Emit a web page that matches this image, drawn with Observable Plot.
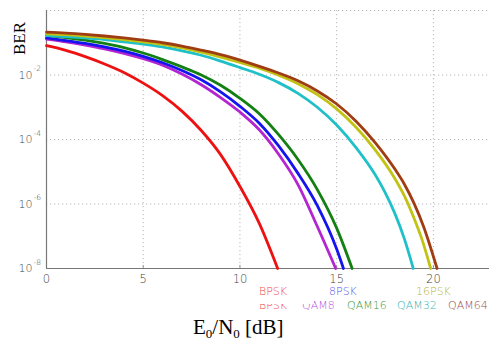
<!DOCTYPE html>
<html>
<head>
<meta charset="utf-8">
<script src="https://cdn.jsdelivr.net/npm/d3@7"></script>
<script src="https://cdn.jsdelivr.net/npm/@observablehq/plot@0.6"></script>
<style>
  html, body { margin: 0; padding: 0; background: #fff; }
  #wrap { position: relative; width: 489px; height: 345px; overflow: hidden; }
  #wrap svg { position: absolute; left: 0; top: 0; }
  .lab { position: absolute; white-space: nowrap; }
  .leg { position: absolute; font-family: "DejaVu Sans", sans-serif; font-size: 11px; font-weight: 300; line-height: 11px; white-space: nowrap; }
</style>
</head>
<body>
<div id="wrap"></div>
<script>
// ---- data ----
const xBPSK   = [0,1,2,3,4,5,6,7,8,9,10,11,11.95];
const berBPSK = [8.1e-2,5.8e-2,3.7e-2,2.2e-2,1.2e-2,5.6e-3,2.3e-3,7.6e-4,1.9e-4,3.4e-5,3.5e-6,2.5e-7,1e-8];

const xQAM8   = [0,1,2,3,4,5,6,7,8,9,10,11,12,13,14,14.95];
const berQAM8 = [1.3e-1,1.07e-1,8.5e-2,6.5e-2,4.7e-2,3.2e-2,2.0e-2,1.07e-2,5.0e-3,2.0e-3,7.1e-4,2.0e-4,3.5e-5,4.0e-6,2.0e-7,1e-8];

const x8PSK   = [0,1,2,3,4,5,6,7,8,9,10,11,12,13,14,15,15.35];
const ber8PSK = [1.41e-1,1.17e-1,9.5e-2,7.4e-2,5.5e-2,3.8e-2,2.4e-2,1.38e-2,7.1e-3,3.0e-3,1.07e-3,3.2e-4,6.3e-5,8.9e-6,8.9e-7,4.0e-8,1e-8];

const xQAM16   = [0,1,2,3,4,5,6,7,8,9,10,11,12,13,14,15,15.8];
const berQAM16 = [1.7e-1,1.45e-1,1.2e-1,9.5e-2,7.1e-2,4.8e-2,3.0e-2,1.78e-2,1.0e-2,4.8e-3,1.9e-3,6.3e-4,1.41e-4,2.4e-5,2.8e-6,1.78e-7,1e-8];

const xQAM32   = [0,1,2,3,4,5,6,7,8,9,10,11,12,13,14,15,16,17,17.5,18,18.5,18.96];
const berQAM32 = [1.66e-1,1.55e-1,1.41e-1,1.26e-1,1.07e-1,9.1e-2,7.4e-2,5.6e-2,4.1e-2,2.7e-2,1.7e-2,1.05e-2,5.8e-3,2.7e-3,1.0e-3,2.8e-4,5.6e-5,7.9e-6,2.3e-6,5.2e-7,8.3e-8,1e-8];

const x16PSK   = [0,1,2,3,4,5,6,7,8,9,10,11,12,13,14,15,16,17,18,18.5,19,19.4,19.86];
const ber16PSK = [1.9e-1,1.78e-1,1.62e-1,1.45e-1,1.26e-1,1.07e-1,8.9e-2,6.9e-2,5.1e-2,3.6e-2,2.45e-2,1.62e-2,9.8e-3,5.4e-3,2.45e-3,8.9e-4,2.4e-4,4.7e-5,6.3e-6,1.78e-6,3.6e-7,8.3e-8,1e-8];

const xQAM64   = [0,1,2,3,4,5,6,7,8,9,10,11,12,13,14,15,16,17,18,18.5,19,19.5,20.19];
const berQAM64 = [2.14e-1,2.0e-1,1.82e-1,1.62e-1,1.41e-1,1.2e-1,1.0e-1,7.9e-2,5.9e-2,4.3e-2,2.9e-2,1.86e-2,1.15e-2,6.6e-3,3.2e-3,1.26e-3,3.7e-4,7.9e-5,1.23e-5,4.1e-6,1.05e-6,1.95e-7,1e-8];

const seriesNames  = ["BPSK","QAM8","8PSK","QAM16","QAM32","16PSK","QAM64"];
const seriesColors = ["#ee1111","#b424d0","#1414ee","#128012","#20c0c8","#c2c214","#a03c12"];
const seriesX = [xBPSK,xQAM8,x8PSK,xQAM16,xQAM32,x16PSK,xQAM64];
const seriesY = [berBPSK,berQAM8,ber8PSK,berQAM16,berQAM32,ber16PSK,berQAM64];

const xTicks = [0,5,10,15,20];
const xGrid = [5,10,15,20];
const yTicks = [1e-2,1e-4,1e-6,1e-8];
const yExp = ["-2","-4","-6","-8"];
const yGrid = [1,1e-2,1e-4,1e-6];

// legend rows as in the reference
const legendRow1 = [["BPSK","#f04848",259],["8PSK","#5656f0",329],["16PSK","#b4b43c",416]];
const legendRow2 = [["BPSK","#f04848",259],["QAM8","#c050e0",302],["QAM16","#3a9a3a",347],["QAM32","#3cb4b4",397],["QAM64","#a05050",448]];

const rows = [];
seriesNames.forEach((n, i) => {
  seriesX[i].forEach((x, j) => rows.push({series: n, x, ber: seriesY[i][j]}));
});

const tickFont = "DejaVu Sans, sans-serif";

const chart = Plot.plot({
  width: 489,
  height: 285,
  marginLeft: 46,
  marginRight: 0,
  marginTop: 10,
  marginBottom: 17,
  x: {domain: [0, 22.9], axis: null},
  y: {type: "log", domain: [1e-8, 1], axis: null},
  color: {domain: seriesNames, range: seriesColors},
  style: {background: "#fff", overflow: "visible"},
  marks: [
    Plot.ruleX(xGrid, {stroke: "#b8b8b8", strokeDasharray: "1.2,2.8", strokeWidth: 1}),
    Plot.ruleY(yGrid, {stroke: "#b8b8b8", strokeDasharray: "1.2,2.8", strokeWidth: 1}),
    Plot.ruleX(xGrid, {x: d => d, y1: 1e-8, y2: 1.25e-8, stroke: "#999"}),
    Plot.ruleX([0], {stroke: "#777", strokeWidth: 1.2}),
    Plot.ruleY([1e-8], {stroke: "#777", strokeWidth: 1.2}),
    Plot.line(rows, {x: "x", y: "ber", z: "series", stroke: "series", strokeWidth: 2.8, curve: "monotone-x"}),
    Plot.text(xTicks, {x: d => d, frameAnchor: "bottom", dy: 11, lineAnchor: "middle", text: d => String(d),
      fontFamily: tickFont, fontSize: 11.5, fontWeight: 300, fill: "#444"}),
    Plot.text(yTicks, {y: d => d, frameAnchor: "left", dx: -14, textAnchor: "end", lineAnchor: "middle", text: () => "10",
      fontFamily: tickFont, fontSize: 11, fontWeight: 300, fill: "#444"}),
    Plot.text(yTicks, {y: d => d, frameAnchor: "left", dx: -13, dy: -6, textAnchor: "start", lineAnchor: "middle", text: (d, i) => yExp[i],
      fontFamily: tickFont, fontSize: 7.5, fontWeight: 300, fill: "#444"})
  ]
});

const wrap = document.getElementById("wrap");
wrap.appendChild(chart);

function addLabel(html, style) {
  const el = document.createElement("div");
  el.className = "lab";
  el.innerHTML = html;
  Object.assign(el.style, style);
  wrap.appendChild(el);
  return el;
}

// y axis title
addLabel("BER", {left: "3px", top: "30px", fontFamily: "Liberation Serif, serif", fontSize: "17px", color: "#000",
  transform: "rotate(-90deg)", transformOrigin: "center center", lineHeight: "17px"});

// x axis title
addLabel("E<sub style='font-size:13px;vertical-align:-4px'>0</sub>/N<sub style='font-size:13px;vertical-align:-4px'>0</sub> [dB]",
  {left: "193px", top: "316px", fontFamily: "Liberation Serif, serif", fontSize: "21px", color: "#000", lineHeight: "23px"});

// legend: second row, then a white patch, then first row on top
legendRow2.forEach(([t, c, x]) => {
  const el = document.createElement("div");
  el.className = "leg"; el.textContent = t;
  Object.assign(el.style, {left: x + "px", top: "300px", color: c});
  wrap.appendChild(el);
});
const patch = document.createElement("div");
Object.assign(patch.style, {position: "absolute", left: "252px", top: "284px", width: "62px", height: "20px", background: "#fff"});
wrap.appendChild(patch);
legendRow1.forEach(([t, c, x]) => {
  const el = document.createElement("div");
  el.className = "leg"; el.textContent = t;
  Object.assign(el.style, {left: x + "px", top: "286px", color: c});
  wrap.appendChild(el);
});
</script>
</body>
</html>
